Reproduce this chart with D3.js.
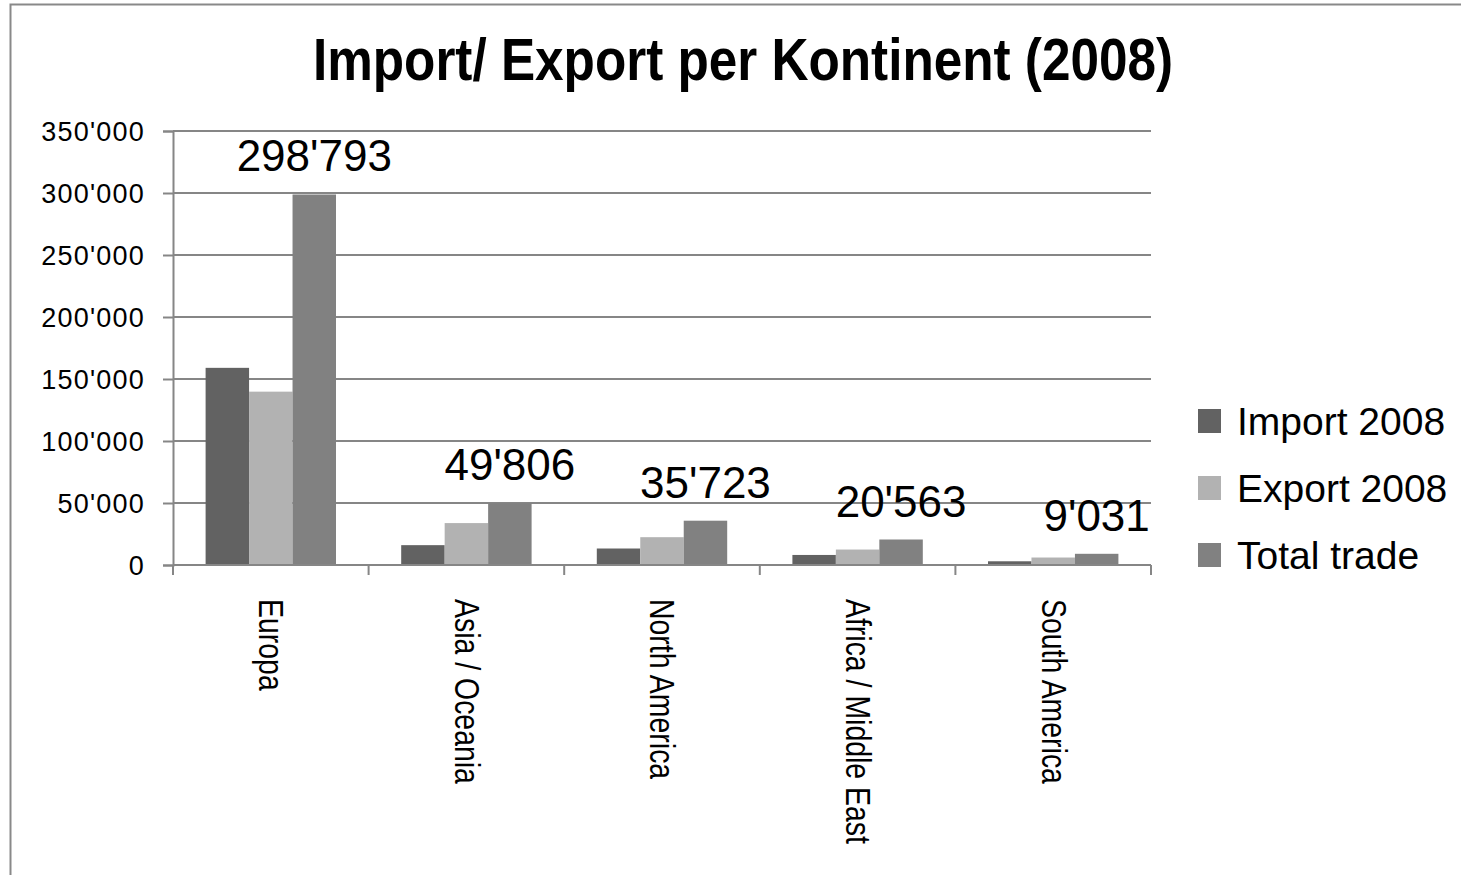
<!DOCTYPE html>
<html>
<head>
<meta charset="utf-8">
<script src="https://cdn.jsdelivr.net/npm/d3@7"></script>
<style>
  html, body { margin: 0; padding: 0; background: #fff; }
  svg { display: block; font-family: "Liberation Sans", Arial, sans-serif; }
</style>
</head>
<body>
<script>
// Chart data
const categories = ['Europa', 'Asia / Oceania', 'North America', 'Africa / Middle East', 'South America'];
const seriesNames = ['Import 2008', 'Export 2008', 'Total trade'];
const importValues = [159000, 16000, 13300, 8100, 3000];
const exportValues = [139793, 33806, 22423, 12463, 6031];
const totalValues = [298793, 49806, 35723, 20563, 9031];
const yTicks = [0, 50000, 100000, 150000, 200000, 250000, 300000, 350000];
const colors = ['#626262', '#b2b2b2', '#818181'];

const w = 1461;
const h = 875;

const svg = d3.select('body')
  .append('svg')
  .attr('width', w)
  .attr('height', h);

// outer chart border (runs off the right/bottom edge)
svg.append('rect')
  .attr('x', 10.5)
  .attr('y', 4.5)
  .attr('width', 1600)
  .attr('height', 1000)
  .attr('fill', 'none')
  .attr('stroke', '#898989')
  .attr('stroke-width', 2);

const fmt = d3.formatLocale({ decimal: '.', thousands: "'", grouping: [3], currency: ['', ''] }).format(',d');

const plotLeft = 173, plotRight = 1151, plotTop = 131, plotBottom = 565;

const xScale = d3.scaleBand()
  .domain(categories)
  .range([plotLeft, plotRight]);

const xSub = d3.scaleBand()
  .domain(seriesNames)
  .range([0, xScale.bandwidth()])
  .paddingOuter(0.75);

const yScale = d3.scaleLinear()
  .domain([0, 350000])
  .range([plotBottom, plotTop]);

// y axis + labels
const yAxis = svg.append('g')
  .attr('transform', `translate(${plotLeft},0)`)
  .call(d3.axisLeft(yScale).tickValues(yTicks).tickSize(10).tickFormat(fmt));
yAxis.select('.domain').attr('stroke', '#868686').attr('stroke-width', 2);
yAxis.selectAll('.tick line').attr('stroke', '#868686').attr('stroke-width', 2);
yAxis.selectAll('.tick text')
  .attr('x', -28)
  .attr('dy', '0.34em')
  .attr('font-size', 27)
  .attr('letter-spacing', 1.2)
  .attr('fill', '#000')
  .attr('font-family', '"Liberation Sans", Arial, sans-serif');

// gridlines
svg.append('g')
  .selectAll('line')
  .data(yTicks.filter(d => d > 0))
  .enter()
  .append('line')
  .attr('x1', plotLeft)
  .attr('x2', plotRight)
  .attr('y1', d => yScale(d))
  .attr('y2', d => yScale(d))
  .attr('stroke', '#868686')
  .attr('stroke-width', 2);

// Bars
const series = [importValues, exportValues, totalValues];
const barGroups = svg.append('g');
series.forEach((vals, si) => {
  barGroups.selectAll('.bar-' + si)
    .data(vals)
    .enter()
    .append('rect')
    .attr('class', 'bar-' + si)
    .attr('x', (d, i) => xScale(categories[i]) + xSub(seriesNames[si]))
    .attr('y', d => yScale(d))
    .attr('width', xSub.bandwidth())
    .attr('height', d => plotBottom - yScale(d))
    .attr('fill', colors[si]);
});

// X axis (category ticks between bands)
const xAxis = svg.append('g')
  .attr('transform', `translate(0,${plotBottom})`);
xAxis.append('line')
  .attr('x1', plotLeft)
  .attr('x2', plotRight)
  .attr('stroke', '#868686')
  .attr('stroke-width', 2);
xAxis.selectAll('.xtick')
  .data(categories.concat(['end']))
  .enter()
  .append('line')
  .attr('class', 'xtick')
  .attr('x1', (d, i) => plotLeft + i * xScale.step())
  .attr('x2', (d, i) => plotLeft + i * xScale.step())
  .attr('y1', 0)
  .attr('y2', 10)
  .attr('stroke', '#868686')
  .attr('stroke-width', 2);

// Category labels, rotated and condensed along the text direction
xAxis.selectAll('.xlabel')
  .data(categories)
  .enter()
  .append('text')
  .attr('class', 'xlabel')
  .attr('transform', d => `translate(${xScale(d) + xScale.bandwidth() / 2},34) rotate(90) scale(0.79,1)`)
  .attr('dy', '0.32em')
  .attr('font-size', 36)
  .text(d => d);

// Data labels on total bars
svg.append('g')
  .selectAll('text')
  .data(totalValues)
  .enter()
  .append('text')
  .attr('x', (d, i) => xScale(categories[i]) + xSub('Total trade') + xSub.bandwidth() / 2)
  .attr('y', d => yScale(d) - 23)
  .attr('text-anchor', 'middle')
  .attr('font-size', 44)
  .text(d => fmt(d));

// Legend
const legend = svg.append('g').attr('transform', 'translate(1198,421)');
seriesNames.forEach((name, i) => {
  const row = legend.append('g').attr('transform', `translate(0,${i * 67})`);
  row.append('rect')
    .attr('x', 0)
    .attr('y', -12)
    .attr('width', 23)
    .attr('height', 24)
    .attr('fill', colors[i]);
  row.append('text')
    .attr('x', 39)
    .attr('dy', '0.36em')
    .attr('font-size', 39)
    .text(name);
});

// Title
svg.append('text')
  .attr('x', 313)
  .attr('y', 80)
  .attr('font-size', 60)
  .attr('font-weight', 'bold')
  .attr('textLength', 860)
  .attr('lengthAdjust', 'spacingAndGlyphs')
  .text('Import/ Export per Kontinent (2008)');
</script>
</body>
</html>
